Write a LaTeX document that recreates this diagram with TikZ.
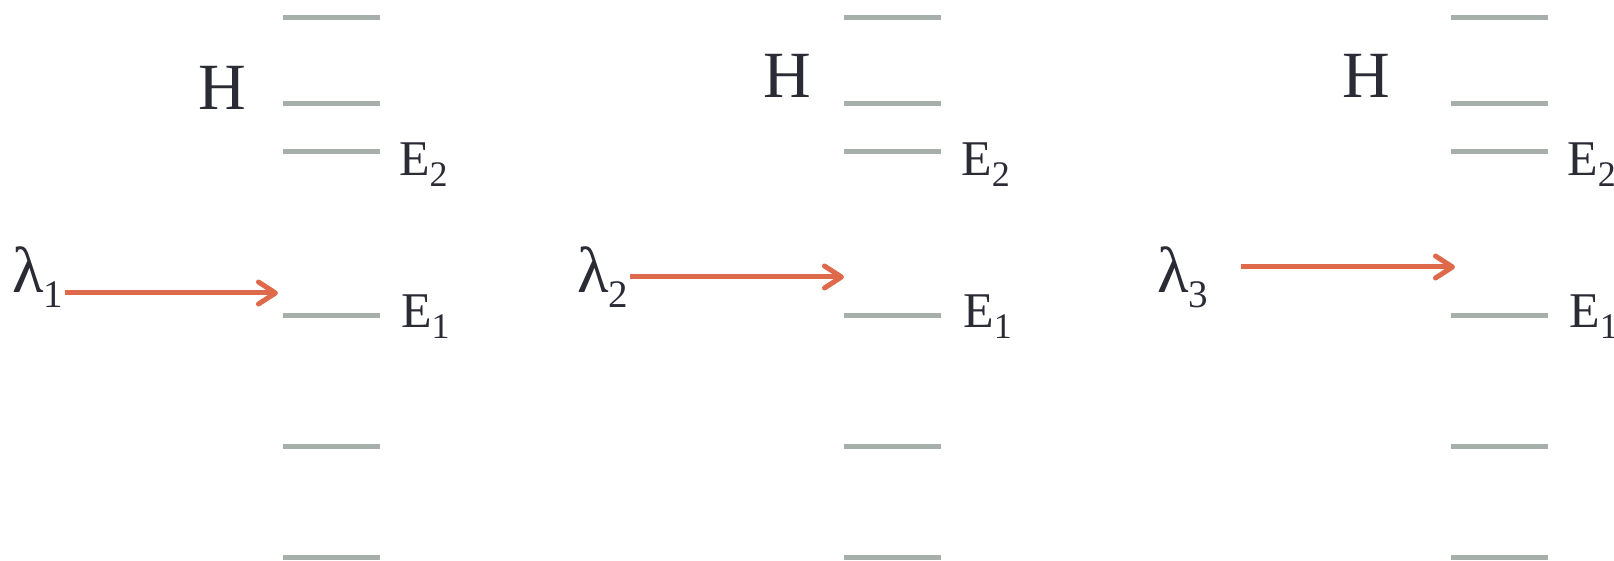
\documentclass[tikz,border=0pt]{standalone}
\usepackage{fontspec}
\setmainfont{Liberation Serif}
\usetikzlibrary{arrows.meta}

\definecolor{levelgray}{HTML}{A6AFA9}
\definecolor{beamred}{HTML}{DE6A4B}
\definecolor{inkdark}{HTML}{2B2B36}

\newcommand{\Esub}[1]{E\raisebox{-11pt}{\fontsize{36}{36}\selectfont #1}}
\newcommand{\lamsub}[1]{λ\raisebox{-15pt}{\fontsize{39}{39}\selectfont #1}}

\begin{document}
\begin{tikzpicture}[
    x=1pt, y=-1pt,
    every node/.style={inner sep=0pt, text=inkdark},
    level/.style={line width=5pt, levelgray},
    beam/.style={line width=5pt, beamred, -{Straight Barb[length=17pt,width=22pt,round]}},
    hlabel/.style={anchor=base west, font=\fontsize{66}{66}\selectfont},
    elabel/.style={anchor=base west, font=\fontsize{50}{50}\selectfont},
    lamlabel/.style={anchor=base west, font=\fontsize{65}{65}\selectfont}
]
\useasboundingbox (0,0) rectangle (1614,561);

% --- Energy levels, one ladder per panel ---
\foreach \lx in {283, 844, 1451} {
    \foreach \ly in {17.5, 103.5, 151.5, 315, 446, 557}
        \draw[level] (\lx,\ly) -- ++(97,0);
}

% --- Level labels ---
\foreach \p/\hx/\hy/\ex in {1/198/110/399, 2/763/98/961, 3/1342/98/1567} {
    \node[hlabel] (H\p) at (\hx,\hy) {H};
    \node[elabel] (Etwo\p) at (\ex,176) {\Esub{2}};
    \node[elabel] (Eone\p) at (\ex+2,327) {\Esub{1}};
}

% --- Incoming photons ---
\foreach \p/\lamx/\sx/\tx/\ay in {1/12/65/278/293, 2/577/630/844/277, 3/1157/1241/1455/267} {
    \node[lamlabel] (lam\p) at (\lamx,293) {\lamsub{\p}};
    \coordinate (src\p) at (\sx,\ay);
    \coordinate (tip\p) at (\tx,\ay);
    \draw[beam] (src\p) -- (tip\p);
}

\end{tikzpicture}
\end{document}
